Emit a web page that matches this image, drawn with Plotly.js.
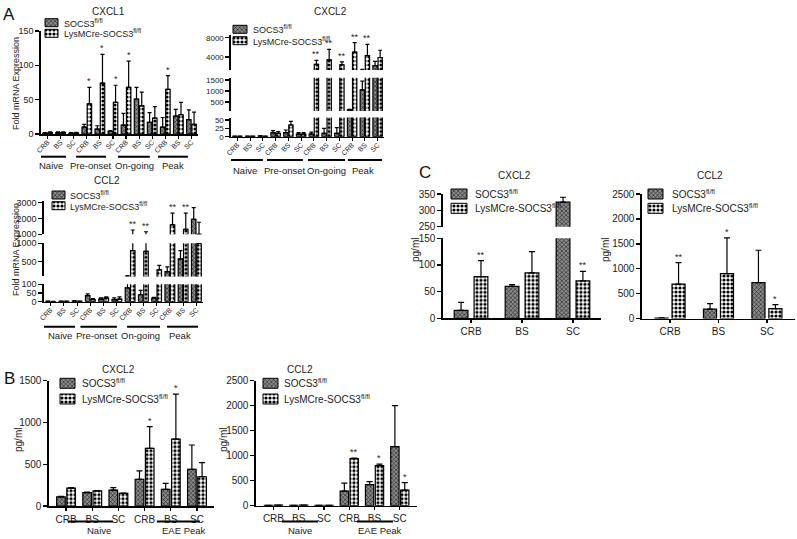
<!DOCTYPE html>
<html><head><meta charset="utf-8">
<script src="https://cdn.plot.ly/plotly-3.0.1.min.js"></script>
<style>html,body{margin:0;padding:0;background:#fff}#chart{width:797px;height:539px}</style>
</head><body><div id="chart"></div>
<script>
// ---------------- data ----------------
const catsA = ['CRB','BS','SC','CRB','BS','SC','CRB','BS','SC','CRB','BS','SC'];
const groupsA = ['Naive','Pre-onset','On-going','Peak'];
const catsB = ['CRB','BS','SC','CRB','BS','SC'];
const groupsB = ['Naive','EAE Peak'];
const catsC = ['CRB','BS','SC'];
const seriesNames = ['SOCS3<sup>fl/fl</sup>','LysMCre-SOCS3<sup>fl/fl</sup>'];

// A: CXCL1 mRNA (fold)
const a1Socs    = [1, 2, 1, 10, 7, 4, 13, 51, 17, 10, 26, 21];
const a1SocsTop = [2, 3, 2, 14, 12, 5, 30, 68, 31, 24, 36, 35];
const a1Lys     = [2, 2, 1.5, 44, 74, 46, 68, 41, 23, 65, 28, 14];
const a1LysTop  = [3, 3, 2.5, 68, 116, 71, 106, 61, 40, 85, 46, 32];
const a1Sig     = ['','','','*','*','*','*','','','*','',''];

// A: CXCL2 mRNA (fold)
const a2Socs    = [1, 1, 2, 12, 12, 8, 8, 10, 10, 130, 1050, 2200];
const a2SocsTop = [1.5, 1.5, 3, 18, 20, 12, 14, 25, 27, 150, 1450, 3100];
const a2Lys     = [1, 1, 1, 10, 35, 8, 2500, 3400, 2400, 5000, 4300, 3900];
const a2LysTop  = [1.5, 1.5, 1.5, 15, 46, 12, 3300, 5600, 3000, 7000, 6600, 5400];
const a2Sig     = ['','','','','','','**','**','**','**','**',''];

// A: CCL2 mRNA (fold)
const a3Socs    = [2, 2, 4, 35, 15, 12, 80, 40, 20, 230, 575, 1950];
const a3SocsTop = [3, 3, 6, 45, 22, 22, 120, 65, 25, 360, 800, 2680];
const a3Lys     = [1, 2, 2, 12, 22, 15, 800, 780, 275, 1590, 1320, 1000];
const a3LysTop  = [2, 3, 3, 18, 28, 28, 1270, 1160, 400, 2330, 2330, 1760];
const a3Sig     = ['','','','','','','**','**','','**','**',''];

// B: CXCL2 protein (pg/ml)
const b1Socs    = [110, 160, 190, 320, 200, 440];
const b1SocsTop = [115, 165, 220, 420, 270, 730];
const b1Lys     = [215, 180, 150, 690, 800, 350];
const b1LysTop  = [220, 185, 155, 950, 1340, 520];
const b1Sig     = ['','','','*','*',''];

// B: CCL2 protein (pg/ml)
const b2Socs    = [5, 8, 8, 290, 420, 1180];
const b2SocsTop = [6, 9, 9, 450, 480, 2000];
const b2Lys     = [10, 10, 5, 940, 800, 310];
const b2LysTop  = [11, 11, 6, 950, 830, 460];
const b2Sig     = ['','','','**','*','*'];

// C: CXCL2 protein (pg/ml)
const c1Socs    = [15, 60, 325];
const c1SocsTop = [30, 63, 340];
const c1Lys     = [78, 85, 70];
const c1LysTop  = [108, 125, 88];
const c1Sig     = ['**','','**'];

// C: CCL2 protein (pg/ml)
const c2Socs    = [10, 190, 720];
const c2SocsTop = [12, 300, 1370];
const c2Lys     = [690, 900, 200];
const c2LysTop  = [1120, 1620, 280];
const c2Sig     = ['**','*','*'];

// ---------------- layout helpers ----------------
const W = 797, H = 539;
const px = p => p / W;
const py = p => 1 - p / H;

const PAT_SOCS = {shape:'x', fgcolor:'#1c1c1c', bgcolor:'#8a8a8a', size:3, solidity:0.35};
const PAT_LYS  = {shape:'.', fgcolor:'#000000', bgcolor:'#ffffff', size:4, solidity:0.5};

const panels = [
  {title:'CXCL1', titlePos:[108,11], cats:catsA, groups:groupsA,
   s:a1Socs, sTop:a1SocsTop, l:a1Lys, lTop:a1LysTop, sig:a1Sig,
   xDom:[41,198], xRange:[-0.5,11.5], tickAngle:-45, xfs:7, yfs:9, standoff:-3, cap:2,
   segs:[{dom:[31,134], range:[0,150], ticks:[0,50,100,150]}],
   yTitle:'Fold mRNA Expression', yTitlePos:[16,84],
   grp:{lineY:156.7, labelY:165.7, lines:[[-0.73,1.41],[2.18,4.47],[5.38,7.82],[8.44,10.73]], labels:[0.27,3.3,6.63,9.6], fs:9.5},
   bar:{o1:-0.37, o2:0.03, w:0.34},
   legend:{sx:45, sw:13, sh:8, rows:[22.7,33.3], tx:62, fs:9}},
  {title:'CXCL2', titlePos:[330,12], cats:catsA, groups:groupsA,
   s:a2Socs, sTop:a2SocsTop, l:a2Lys, lTop:a2LysTop, sig:a2Sig,
   xDom:[231,384], xRange:[-0.5,11.5], tickAngle:-45, xfs:7, yfs:8, standoff:-3, cap:2,
   segs:[{dom:[117.5,136.7], range:[0,57.5], ticks:[0,25,50]},
         {dom:[77.7,111], range:[80,1607], ticks:[500,1000,1500]},
         {dom:[35,70], range:[1310,8560], ticks:[4000,8000]}],
   yTitle:null,
   grp:{lineY:160, labelY:170.5, lines:[[-0.82,2.0],[2.32,5.14],[5.54,8.44],[8.67,11.34]], labels:[0.6,3.75,7.0,9.85], fs:9.5},
   bar:{o1:-0.37, o2:0.03, w:0.34},
   legend:{sx:233, sw:14, sh:8, rows:[29.3,40.7], tx:251, fs:9}},
  {title:'CCL2', titlePos:[107,180], cats:catsA, groups:groupsA,
   s:a3Socs, sTop:a3SocsTop, l:a3Lys, lTop:a3LysTop, sig:a3Sig,
   xDom:[44,203], xRange:[-0.5,11.5], tickAngle:-45, xfs:7, yfs:9, standoff:-3, cap:2,
   segs:[{dom:[284.3,301.7], range:[0,100], ticks:[0,50,100]},
         {dom:[243.3,276.4], range:[100,1000], ticks:[500,1000]},
         {dom:[201,234.3], range:[1000,3100], ticks:[1000,2000,3000]}],
   yTitle:'Fold mRNA Expression', yTitlePos:[16,250],
   grp:{lineY:326.7, labelY:335.5, lines:[[-0.57,1.84],[2.25,5.0],[5.77,8.26],[8.79,11.12]], labels:[0.71,3.5,6.75,9.77], fs:9.5},
   bar:{o1:-0.37, o2:0.03, w:0.34},
   legend:{sx:52, sw:13, sh:8, rows:[195,205.7], tx:68, fs:9}},
  {title:'CXCL2', titlePos:[118,369], cats:catsB, groups:groupsB,
   s:b1Socs, sTop:b1SocsTop, l:b1Lys, lTop:b1LysTop, sig:b1Sig,
   xDom:[49,214], xRange:[-0.65,5.65], tickAngle:0, xfs:10, yfs:10, standoff:0, cap:3,
   segs:[{dom:[380.7,506], range:[0,1500], ticks:[0,500,1000,1500]}],
   yTitle:'pg/ml', yTitlePos:[18,440],
   grp:{lineY:521.5, labelY:530.5, lines:[[0.08,1.79],[3.47,5.11]], labels:[1.26,4.5], fs:9.5},
   bar:{o1:-0.36, o2:0.03, w:0.33},
   legend:{sx:60, sw:15, sh:10, rows:[383.3,399], tx:80, fs:10}},
  {title:'CCL2', titlePos:[300,369], cats:catsB, groups:groupsB,
   s:b2Socs, sTop:b2SocsTop, l:b2Lys, lTop:b2LysTop, sig:b2Sig,
   xDom:[256,417], xRange:[-0.69,5.68], tickAngle:0, xfs:10, yfs:10, standoff:0, cap:3,
   segs:[{dom:[380.7,505.7], range:[0,2500], ticks:[0,500,1000,1500,2000,2500]}],
   yTitle:'pg/ml', yTitlePos:[223,440],
   grp:{lineY:521.5, labelY:530.5, lines:[[0.34,1.76],[3.3,4.73]], labels:[1.05,4.2], fs:9.5},
   bar:{o1:-0.36, o2:0.03, w:0.33},
   legend:{sx:263, sw:15, sh:10, rows:[383.3,399], tx:282, fs:10}},
  {title:'CXCL2', titlePos:[514,175], cats:catsC, groups:null,
   s:c1Socs, sTop:c1SocsTop, l:c1Lys, lTop:c1LysTop, sig:c1Sig,
   xDom:[443,601], xRange:[-0.55,2.55], tickAngle:0, xfs:10, yfs:10, standoff:0, cap:3,
   segs:[{dom:[238.3,318.3], range:[0,150], ticks:[0,50,100,150]},
         {dom:[194,226.7], range:[250,350], ticks:[250,300,350]}],
   yTitle:'pg/ml', yTitlePos:[415,250],
   bar:{o1:-0.33, o2:0.06, w:0.27},
   legend:{sx:451, sw:16, sh:10, rows:[194,208.3], tx:473, fs:10}},
  {title:'CCL2', titlePos:[710,176], cats:catsC, groups:null,
   s:c2Socs, sTop:c2SocsTop, l:c2Lys, lTop:c2LysTop, sig:c2Sig,
   xDom:[642,795], xRange:[-0.58,2.58], tickAngle:0, xfs:10, yfs:10, standoff:0, cap:3,
   segs:[{dom:[194,318.5], range:[0,2500], ticks:[0,500,1000,1500,2000,2500]}],
   yTitle:'pg/ml', yTitlePos:[605,250],
   bar:{o1:-0.31, o2:0.04, w:0.27},
   legend:{sx:648, sw:15, sh:10, rows:[194,208.3], tx:670, fs:10}}
];

const letters = [{t:'A', x:9, y:14}, {t:'B', x:9, y:378}, {t:'C', x:425, y:172}];

// ---------------- build ----------------
const layout = {
  width:W, height:H, margin:{l:0,r:0,t:0,b:0,autoexpand:false},
  paper_bgcolor:'#ffffff', plot_bgcolor:'rgba(0,0,0,0)',
  showlegend:false, barmode:'overlay',
  font:{family:'Liberation Sans, Arial, sans-serif', color:'#222', size:9},
  shapes:[], annotations:[]
};
const data = [];
const lgS = {x:[], y:[], base:[], width:[]};
const lgL = {x:[], y:[], base:[], width:[]};
let xi = 0, yi = 0;

panels.forEach(p => {
  xi++;
  const xid = 'x' + (xi > 1 ? xi : '');
  const xkey = 'xaxis' + (xi > 1 ? xi : '');
  const idx = p.cats.map((c, i) => i);
  const yids = [];
  p.segs.forEach((s) => {
    yi++;
    const yid = 'y' + (yi > 1 ? yi : '');
    const ykey = 'yaxis' + (yi > 1 ? yi : '');
    yids.push(yid);
    layout[ykey] = {
      domain:[py(s.dom[1]), py(s.dom[0])], range:s.range, anchor:xid,
      showline:true, linecolor:'#000', linewidth:1.6,
      ticks:'outside', ticklen:4, tickwidth:1.4, tickcolor:'#000',
      tickvals:s.ticks, tickfont:{size:p.yfs, color:'#222'},
      showgrid:false, zeroline:false, fixedrange:true
    };
    const mk = (vals, tops, off, pat) => ({
      type:'bar', x:idx, y:vals, offset:off, width:p.bar.w,
      xaxis:xid, yaxis:yid,
      marker:{color:pat.bgcolor, pattern:pat, line:{color:'#000', width:1.2}},
      error_y:{type:'data', symmetric:false,
               array:tops.map((t, i) => t - vals[i]),
               arrayminus:vals.map(() => 0),
               color:'#000', thickness:1.2, width:p.cap},
      hoverinfo:'skip', showlegend:false
    });
    data.push(mk(p.s, p.sTop, p.bar.o1, PAT_SOCS));
    data.push(mk(p.l, p.lTop, p.bar.o2, PAT_LYS));
  });
  layout[xkey] = {
    domain:[px(p.xDom[0]), px(p.xDom[1])], range:p.xRange, anchor:yids[0],
    showline:true, linecolor:'#000', linewidth:1.6,
    ticks:'outside', ticklen:3, tickwidth:1.2, tickcolor:'#000',
    tickvals:idx, ticktext:p.cats, tickangle:p.tickAngle,
    ticklabelstandoff:p.standoff,
    tickfont:{size:p.xfs, color:'#222'},
    showgrid:false, zeroline:false, fixedrange:true
  };
  // significance stars above the LysMCre bars
  p.sig.forEach((t, i) => {
    if (!t) return;
    const top = p.lTop[i];
    let k = 0;
    while (k < p.segs.length - 1 && top > p.segs[k].range[1]) k++;
    layout.annotations.push({
      xref:xid, yref:yids[k], x:i + p.bar.o2 + p.bar.w / 2, y:top,
      text:t, showarrow:false, yanchor:'bottom', yshift:-1,
      font:{size:9, color:'#222'}
    });
  });
  // group underlines and labels
  if (p.groups) {
    const G = p.grp;
    p.groups.forEach((g, gi) => {
      layout.shapes.push({type:'line', xref:xid, yref:'paper',
        x0:G.lines[gi][0], x1:G.lines[gi][1], y0:py(G.lineY), y1:py(G.lineY),
        line:{color:'#000', width:2}});
      layout.annotations.push({xref:xid, yref:'paper', x:G.labels[gi], y:py(G.labelY),
        text:g, showarrow:false, xanchor:'center', yanchor:'middle',
        font:{size:G.fs, color:'#222'}});
    });
  }
  // chart title
  const dw = p.xDom[1] - p.xDom[0];
  layout.annotations.push({xref:xid + ' domain', yref:'paper',
    x:(p.titlePos[0] - p.xDom[0]) / dw, y:py(p.titlePos[1]),
    text:p.title, showarrow:false, xanchor:'center', yanchor:'middle',
    font:{size:10, color:'#222'}});
  if (p.yTitle) {
    layout.annotations.push({xref:'paper', yref:'paper', x:px(p.yTitlePos[0]), y:py(p.yTitlePos[1]),
      text:p.yTitle, textangle:-90, showarrow:false, xanchor:'center', yanchor:'middle',
      font:{size:p.yfs, color:'#222'}});
  }
  // legend: swatches go to overlay traces, text as annotations
  const L = p.legend;
  [lgS, lgL].forEach((acc, k) => {
    acc.y.push(L.rows[k]); acc.base.push(L.sx); acc.x.push(L.sw); acc.width.push(L.sh);
    layout.annotations.push({xref:'paper', yref:'paper', x:px(L.tx), y:py(L.rows[k]),
      text:seriesNames[k], showarrow:false, xanchor:'left', yanchor:'middle',
      font:{size:L.fs, color:'#222'}});
  });
});

// overlay axes for legend swatches (page pixel coordinates)
xi++; yi++;
const oxid = 'x' + xi, oyid = 'y' + yi;
layout['xaxis' + xi] = {domain:[0,1], range:[0,W], anchor:oyid, visible:false, fixedrange:true};
layout['yaxis' + yi] = {domain:[0,1], range:[H,0], anchor:oxid, visible:false, fixedrange:true};
[[lgS, PAT_SOCS], [lgL, PAT_LYS]].forEach(([acc, pat]) => {
  data.push({type:'bar', orientation:'h', xaxis:oxid, yaxis:oyid,
    x:acc.x, y:acc.y, base:acc.base, width:acc.width,
    marker:{color:pat.bgcolor, pattern:pat, line:{color:'#000', width:1}},
    hoverinfo:'skip', showlegend:false});
});

letters.forEach(L => layout.annotations.push({xref:'paper', yref:'paper', x:px(L.x), y:py(L.y),
  text:L.t, showarrow:false, xanchor:'center', yanchor:'middle', font:{size:17, color:'#111'}}));

Plotly.newPlot('chart', data, layout, {staticPlot:true, displayModeBar:false});
</script>
</body></html>
